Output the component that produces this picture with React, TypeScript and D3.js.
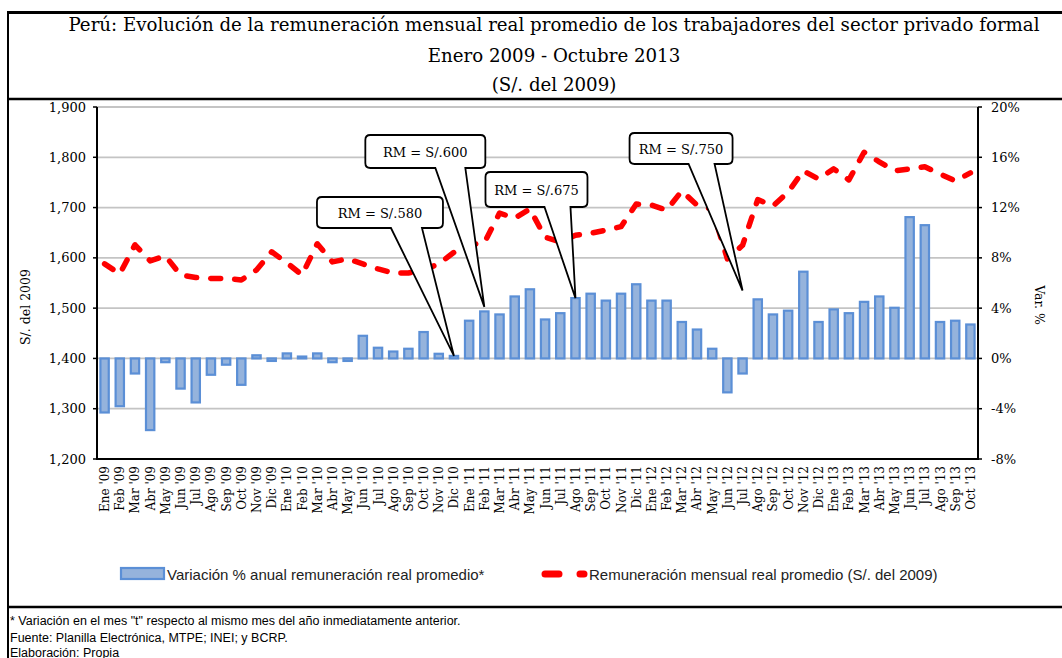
import React from 'react';
import * as d3 from 'd3';

// meses Ene 2009 - Oct 2013
const meses = [
  "Ene '09", "Feb '09", "Mar '09", "Abr '09", "May '09", "Jun '09", "Jul '09", "Ago '09", "Sep '09", "Oct '09", "Nov '09", "Dic '09",
  "Ene '10", "Feb '10", "Mar '10", "Abr '10", "May '10", "Jun '10", "Jul '10", "Ago '10", "Sep '10", "Oct '10", "Nov '10", "Dic '10",
  "Ene '11", "Feb '11", "Mar '11", "Abr '11", "May '11", "Jun '11", "Jul '11", "Ago '11", "Sep '11", "Oct '11", "Nov '11", "Dic '11",
  "Ene '12", "Feb '12", "Mar '12", "Abr '12", "May '12", "Jun '12", "Jul '12", "Ago '12", "Sep '12", "Oct '12", "Nov '12", "Dic '12",
  "Ene '13", "Feb '13", "Mar '13", "Abr '13", "May '13", "Jun '13", "Jul '13", "Ago '13", "Sep '13", "Oct '13",
];

// variación % anual (eje derecho)
const variacion = [
  -4.3, -3.8, -1.2, -5.7, -0.3, -2.4, -3.5, -1.3, -0.5, -2.1, 0.25, -0.2,
  0.4, 0.15, 0.4, -0.3, -0.2, 1.8, 0.85, 0.55, 0.77, 2.1, 0.37, 0.2,
  3.0, 3.74, 3.5, 4.93, 5.5, 3.1, 3.6, 4.8, 5.15, 4.6, 5.15, 5.9,
  4.6, 4.6, 2.9, 2.3, 0.77, -2.7, -1.2, 4.7, 3.5, 3.8, 6.9, 2.9,
  3.9, 3.6, 4.5, 4.93, 4.03, 11.24, 10.6, 2.9, 3.0, 2.7,
];

// remuneración mensual real promedio, S/. del 2009 (eje izquierdo)
const remuneracion = [
  1588, 1568, 1626, 1594, 1604, 1566, 1561, 1559, 1559, 1556, 1576, 1612,
  1590, 1566, 1628, 1592, 1598, 1588, 1578, 1570, 1570, 1576, 1588, 1611,
  1626, 1630, 1689, 1679, 1697, 1641, 1632, 1645, 1649, 1655, 1662, 1707,
  1705, 1695, 1733, 1705, 1697, 1598, 1625, 1716, 1703, 1731, 1773, 1757,
  1777, 1755, 1810, 1791, 1773, 1777, 1781, 1767, 1753, 1769,
];

const ticksIzq = [1200, 1300, 1400, 1500, 1600, 1700, 1800, 1900];
const ticksDer = [-8, -4, 0, 4, 8, 12, 16, 20];

// anotaciones de remuneración mínima
const rmTextos = ['RM = S/.580', 'RM = S/.600', 'RM = S/.675', 'RM = S/.750'];
const rmMeses = ["Dic '10", "Feb '11", "Ago '11", "Jul '12"];
const rmPunta = [0.2, 4.1, 4.8, 5.4];

// caja de cada globo relativa a la punta: [x0, x1, y0, y1, baseIzq, baseDer]
const rmCajas = [
  [-137, -11, 197, 228, -63, -32],
  [-119, 1, 135, 168, -49, -19],
  [-90, 12, 172, 207, -31, -5],
  [-113, -10, 133, 164, -54, -28],
];

const serif = "'DejaVu Serif', serif";
const sans = "'Liberation Sans Narrow', 'Liberation Sans', sans-serif";

const globo = (x0: number, x1: number, y0: number, y1: number, bl: number, br: number, tx: number, ty: number) => {
  const r = 5;
  return `M${x0 + r},${y0} H${x1 - r} Q${x1},${y0} ${x1},${y0 + r} V${y1 - r} Q${x1},${y1} ${x1 - r},${y1}` +
    ` H${br} L${tx},${ty} L${bl},${y1} H${x0 + r} Q${x0},${y1} ${x0},${y1 - r} V${y0 + r} Q${x0},${y0} ${x0 + r},${y0} Z`;
};

const App = () => {
  const left = 97, right = 978, top = 107, bottom = 459;

  const x = d3.scaleBand().domain(meses).range([left, right]).paddingInner(0.45).paddingOuter(0.225);
  const yIzq = d3.scaleLinear().domain([1200, 1900]).range([bottom, top]);
  const yDer = d3.scaleLinear().domain([-8, 20]).range([bottom, top]);
  const cx = (m: string) => (x(m) as number) + x.bandwidth() / 2;

  const linea = d3
    .line<number>()
    .x((d, i) => cx(meses[i]))
    .y((d) => yIzq(d));

  const fmt = d3.format(',');

  return (
    <svg width={1062} height={658} style={{ position: 'absolute', left: 0, top: 0, background: '#fff' }}>
      {/* marco */}
      <line x1={8} x2={1062} y1={12.5} y2={12.5} stroke="#000" strokeWidth={3} />
      <line x1={8} x2={8} y1={11} y2={658} stroke="#000" strokeWidth={2} />
      <line x1={8} x2={1062} y1={99} y2={99} stroke="#000" strokeWidth={2.5} />
      <line x1={8} x2={1062} y1={607} y2={607} stroke="#000" strokeWidth={2.5} />

      {/* título */}
      <g fontFamily={serif} fontSize={18.2} textAnchor="middle" fill="#000">
        <text x={554} y={31}>Perú: Evolución de la remuneración mensual real promedio de los trabajadores del sector privado formal</text>
        <text x={554} y={62}>Enero 2009 - Octubre 2013</text>
        <text x={554} y={91}>(S/. del 2009)</text>
      </g>

      {/* grilla */}
      {ticksIzq.slice(1).map((t) => (
        <line key={t} x1={left} x2={right} y1={yIzq(t)} y2={yIzq(t)} stroke="#c4c4c4" strokeWidth={1.8} />
      ))}

      {/* barras */}
      {variacion.map((v, i) => {
        const y0 = yDer(Math.max(0, v));
        const h = Math.abs(yDer(v) - yDer(0));
        return (
          <rect key={meses[i]} x={x(meses[i])} y={y0} width={x.bandwidth()} height={Math.max(h, 1)}
            fill="#95b3dc" stroke="#5b8fd6" strokeWidth={2.2} />
        );
      })}

      {/* línea de remuneración */}
      <path d={linea(remuneracion) || ''} fill="none" stroke="#ff0000" strokeWidth={5.5}
        strokeDasharray="10 14" strokeLinecap="round" strokeLinejoin="round" />

      {/* ejes */}
      <line x1={left} x2={left} y1={top} y2={bottom} stroke="#000" strokeWidth={2} />
      <line x1={right} x2={right} y1={top} y2={bottom} stroke="#000" strokeWidth={2} />
      <line x1={left - 1} x2={right + 1} y1={bottom} y2={bottom} stroke="#000" strokeWidth={2} />
      <g fontFamily={serif} fontSize={13} fill="#000">
        {ticksIzq.map((t) => (
          <g key={t}>
            <line x1={left - 4} x2={left} y1={yIzq(t)} y2={yIzq(t)} stroke="#000" strokeWidth={1.5} />
            <text x={86} y={yIzq(t) + 4.5} textAnchor="end">{fmt(t)}</text>
          </g>
        ))}
        {ticksDer.map((t) => (
          <g key={t}>
            <line x1={right} x2={right + 4} y1={yDer(t)} y2={yDer(t)} stroke="#000" strokeWidth={1.5} />
            <text x={991} y={yDer(t) + 4.5} textAnchor="start">{`${t}%`}</text>
          </g>
        ))}
      </g>
      <text transform="translate(30,307) rotate(-90)" fontFamily={serif} fontSize={12.5} textAnchor="middle">S/. del 2009</text>
      <text transform="translate(1035,305) rotate(90)" fontFamily={serif} fontSize={12.5} textAnchor="middle">Var. %</text>

      <g fontFamily={serif} fontSize={12} fill="#000">
        {meses.map((m) => (
          <text key={m} transform={`translate(${cx(m) + 4.5},${bottom + 7}) rotate(-90)`} textAnchor="end">{m}</text>
        ))}
      </g>

      {/* globos RM */}
      {rmTextos.map((t, i) => {
        const tx = cx(rmMeses[i]);
        const ty = yDer(rmPunta[i]);
        const [a, b, y0, y1, bl, br] = rmCajas[i];
        return (
          <g key={t}>
            <path d={globo(tx + a, tx + b, y0, y1, tx + bl, tx + br, tx, ty)} fill="#fff" stroke="#000" strokeWidth={1.8} />
            <text x={tx + (a + b) / 2} y={(y0 + y1) / 2 + 5} textAnchor="middle" fontFamily={serif} fontSize={13}>{t}</text>
          </g>
        );
      })}

      {/* leyenda */}
      <rect x={121} y={568} width={43} height={11} fill="#95b3dc" stroke="#5b8fd6" strokeWidth={2.2} />
      <text x={167} y={580} fontFamily={sans} fontSize={15} fill="#222">Variación % anual remuneración real promedio*</text>
      <line x1={545} x2={584} y1={574} y2={574} stroke="#ff0000" strokeWidth={7} strokeLinecap="round" strokeDasharray="14 21" />
      <text x={589} y={580} fontFamily={sans} fontSize={15} fill="#222">Remuneración mensual real promedio (S/. del 2009)</text>

      {/* notas */}
      <g fontFamily={sans} fontSize={12.5} fill="#000">
        <text x={10} y={625}>* Variación en el mes "t" respecto al mismo mes del año inmediatamente anterior.</text>
        <text x={10} y={642}>Fuente: Planilla Electrónica, MTPE; INEI; y BCRP.</text>
        <text x={10} y={657}>Elaboración: Propia</text>
      </g>
    </svg>
  );
};

export default App;
